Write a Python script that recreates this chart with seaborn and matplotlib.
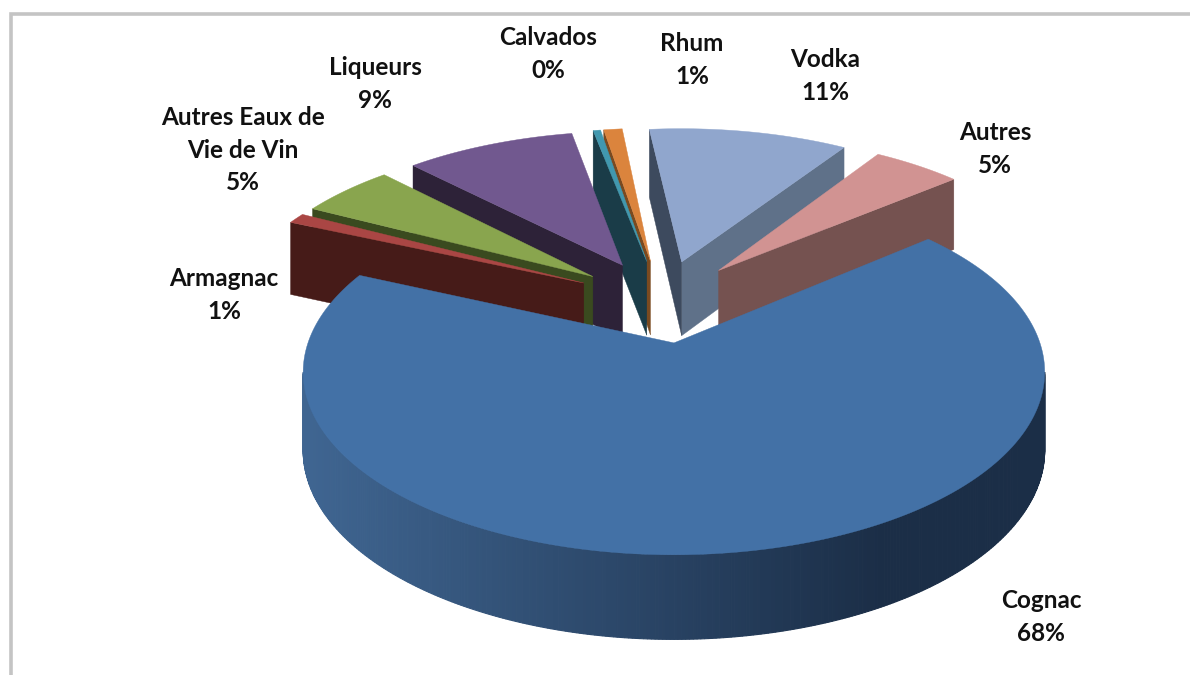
import numpy as np
import matplotlib.pyplot as plt
import seaborn as sns

# slices, clockwise starting at the right edge of Cognac
labels = ["Cognac", "Armagnac", "Autres Eaux de\nVie de Vin", "Liqueurs", "Calvados", "Rhum", "Vodka", "Autres"]
values = [67.8, 1, 5.1, 9.2, 0.4, 1, 10.8, 4.8]
top_colors = ["#4371a6", "#aa4644", "#89a54e", "#71588f", "#4198af", "#db843d", "#90a6cd", "#d19392"]
face1_colors = ["#1b2e47", "#461b18", "#3a4a1f", "#2d2238", "#1a3c48", "#7a4a20", "#5f7189", "#755250"]
face2_colors = ["#1b2e47", "#461b18", "#3a4a1f", "#2d2238", "#1a3c48", "#7a4a20", "#3d4a5e", "#755250"]
label_centers = [(1041, 617), (224, 295), (243, 150), (375, 84), (548, 54), (692, 60), (825, 76), (995, 149)]

START_ANGLE = 40.0
EXPLODE = 0.25
RADIUS = 1.0
CENTER_U, CENTER_V = -0.038, 0.248
THICK = 77


# tilted disc with perspective, back of the pie is smaller
def proj(u, v, drop=0.0):
    w = 1 + 0.16 * v
    return 675 + 366 * u / w, 343 - 178 * v / w + drop / (1 + 0.09 * v)


def rim(t, cu, cv):
    return cu + RADIUS * np.cos(t), cv + RADIUS * np.sin(t)


def area(xs, ys):
    return np.sum(xs * np.roll(ys, -1) - np.roll(xs, -1) * ys)


sns.set_theme(style="white")
plt.rcParams["font.family"] = ["Lato", "DejaVu Sans"]

# left to right shading of the Cognac wall
wall_shades = sns.blend_palette(["#3f6591", "#1b2e47"], 256)


def side_color(x):
    f = np.clip((x - 310) / 570, 0, 1)
    return wall_shades[int(f * 255)]


fig, ax = plt.subplots(figsize=(11.9, 6.75), dpi=100)
ax.set_position([0, 0, 1, 1])
ax.set_xlim(0, 1190)
ax.set_ylim(675, 0)
ax.axis("off")

# grey frame, only top and left are in the picture
ax.plot([11, 11, 1190], [675, 14, 14], color="#c4c4c4", lw=2.6, solid_joinstyle="miter")

shares = np.array(values) / np.sum(values) * 360
ends = START_ANGLE - np.concatenate([[0], np.cumsum(shares)[:-1]])
starts = ends - shares

slices = []
for i in range(len(labels)):
    mid = np.radians((starts[i] + ends[i]) / 2)
    cu = CENTER_U + EXPLODE * np.cos(mid)
    cv = CENTER_V + EXPLODE * np.sin(mid)
    slices.append((cv, i, cu))

# back slices first, Cognac comes last by itself
for cv, i, cu in sorted(slices, key=lambda s: -s[0]):
    t = np.radians(np.linspace(starts[i], ends[i], max(int(shares[i] * 2), 8)))
    ru, rv = rim(t, cu, cv)

    # outer wall
    for j in range(len(t) - 1):
        x0, y0 = proj(ru[j], rv[j])
        x1, y1 = proj(ru[j + 1], rv[j + 1])
        x2, y2 = proj(ru[j + 1], rv[j + 1], THICK)
        x3, y3 = proj(ru[j], rv[j], THICK)
        xs, ys = np.array([x0, x1, x2, x3]), np.array([y0, y1, y2, y3])
        if area(xs, ys) > 0:
            c = side_color((x0 + x1) / 2) if i == 0 else face1_colors[i]
            ax.fill(xs, ys, color=c, lw=0.8)

    # cut faces
    for k, sign, c in [(0, 1, face1_colors[i]), (-1, -1, face2_colors[i])]:
        ax0, ay0 = proj(cu, cv)
        bx0, by0 = proj(ru[k], rv[k])
        bx1, by1 = proj(ru[k], rv[k], THICK)
        ax1, ay1 = proj(cu, cv, THICK)
        xs, ys = np.array([ax0, bx0, bx1, ax1]), np.array([ay0, by0, by1, ay1])
        if area(xs, ys) * sign > 0:
            ax.fill(xs, ys, color=c, lw=0.3)

    # top
    px, py = proj(np.r_[cu, ru], np.r_[cv, rv])
    ax.fill(px, py, color=top_colors[i], lw=0.3)

for i, name in enumerate(labels):
    pct = int(round(values[i]))
    ax.text(label_centers[i][0], label_centers[i][1], f"{name}\n{pct}%", ha="center", va="center",
            fontsize=17.5, fontweight="bold", color="#111111", linespacing=1.5)

plt.savefig("out.png", dpi=100)
plt.close()
